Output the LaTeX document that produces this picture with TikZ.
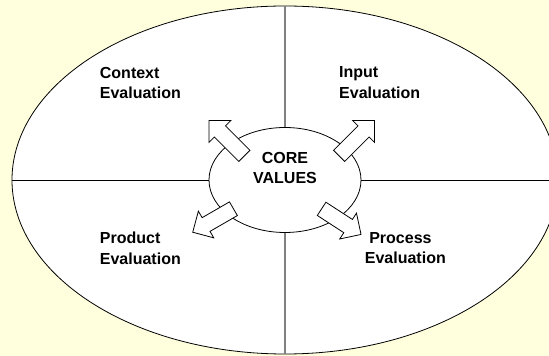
\documentclass[tikz,border=0pt]{standalone}
\usepackage{fontspec}
\setmainfont{Liberation Sans}
\usetikzlibrary{positioning,shapes.geometric,shapes.arrows}
\definecolor{paleyellow}{RGB}{255,255,221}

\begin{document}
\begin{tikzpicture}[x=1pt,y=1pt,
		every node/.style={font=\bfseries\fontsize{16}{20.6}\selectfont},
		ring/.style={ellipse,draw,fill=white,inner sep=0pt,line width=0.8pt},
		vline/.style={draw=black!50,line width=1.6pt},
		part/.style={align=left,anchor=north west,inner sep=0pt},
		push/.style={single arrow,draw,fill=white,inner sep=7.5pt,
			single arrow head extend=7.5pt,line width=0.8pt}]
	\fill[paleyellow] (0,0) rectangle (549,356);
	\useasboundingbox (0,0) rectangle (549,356);

	\node (outer) [ring,minimum width=546pt,minimum height=348pt] at (285,176) {};
	\node (core)  [ring,minimum width=152pt,minimum height=105pt] at (285,176) {};

	% quadrant lines
	\draw (outer.west) -- (core.west);
	\draw (core.east) -- (outer.east);
	\draw[vline] (outer.north) -- (core.north);
	\draw[vline] (core.south) -- (outer.south);

	% arrows out of the core
	\node (toctx) [push,minimum height=50pt,rotate=135]   at (229.5,215) {};
	\node (toinp) [push,minimum height=50pt,rotate=45]    at (354,215)   {};
	\node (toprd) [push,minimum height=47pt,rotate=210]   at (216.5,137.5) {};
	\node (toprc) [push,minimum height=47pt,rotate=-33]   at (338,136.5) {};

	\node (vals) [align=center,anchor=north,inner sep=0pt] at (285,204.3) {CORE\\VALUES};

	\node (ctx) [part] at (99.7,289.3)  {Context\\Evaluation};
	\node (inp) [part] at (339,289.3)   {Input\\Evaluation};
	\node (prd) [part] at (99.7,124)    {Product\\Evaluation};
	\node (prc) [part] at (364.7,124)   {\hspace*{4.4pt}Process\\Evaluation};
\end{tikzpicture}
\end{document}
